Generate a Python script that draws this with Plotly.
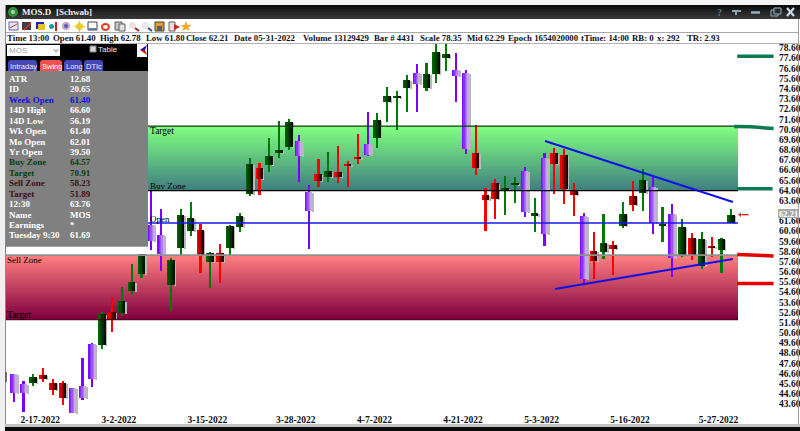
import numpy as np
import plotly.graph_objects as go

dates = ["2-14-2022","2-15-2022","2-16-2022","2-17-2022","2-18-2022","2-22-2022","2-23-2022","2-24-2022","2-25-2022","2-28-2022",
 "3-1-2022","3-2-2022","3-3-2022","3-4-2022","3-7-2022","3-8-2022","3-9-2022","3-10-2022","3-11-2022","3-14-2022",
 "3-15-2022","3-16-2022","3-17-2022","3-18-2022","3-21-2022","3-22-2022","3-23-2022","3-24-2022","3-25-2022","3-28-2022",
 "3-29-2022","3-30-2022","3-31-2022","4-1-2022","4-4-2022","4-5-2022","4-6-2022","4-7-2022","4-8-2022","4-11-2022",
 "4-12-2022","4-13-2022","4-14-2022","4-18-2022","4-19-2022","4-20-2022","4-21-2022","4-22-2022","4-25-2022","4-26-2022",
 "4-27-2022","4-28-2022","4-29-2022","5-2-2022","5-3-2022","5-4-2022","5-5-2022","5-6-2022","5-9-2022","5-10-2022",
 "5-11-2022","5-12-2022","5-13-2022","5-16-2022","5-17-2022","5-18-2022","5-19-2022","5-20-2022","5-23-2022","5-24-2022",
 "5-25-2022","5-26-2022","5-27-2022","5-31-2022"]
kinds = list("PPGRRRPPPGRGGGPPGGGRGRGGGRGGGPPRGRRRPGGGGPGGGPPRRRGGPGPRRRPRGRGRGPGPGRGRGG")
highs = [46.55,45.85,46.55,47.14,46.05,45.85,45.17,48.12,49.59,52.64,54.12,55.10,57.36,60.11,64.64,62.77,57.95,62.77,63.46,61.29,
 58.54,59.33,61.19,62.38,67.78,67.29,69.75,71.42,71.62,70.05,65.13,67.69,68.37,68.96,67.49,70.14,72.31,72.21,74.77,74.37,
 75.95,77.03,77.13,79.50,79.50,78.11,76.44,71.03,64.83,65.72,66.01,65.92,66.90,63.85,68.28,68.77,68.67,65.33,62.38,60.51,
 62.28,59.62,63.46,65.52,66.70,66.01,62.97,63.26,61.79,60.41,60.51,60.02,59.92,62.78]
body_tops = [46.55,45.56,46.25,46.45,45.66,45.66,45.17,45.37,49.49,52.44,52.64,53.72,55.59,59.92,61.19,60.21,57.75,62.18,61.88,60.70,
 58.44,58.44,61.10,62.08,67.19,66.80,67.98,68.57,71.32,69.46,64.44,66.21,66.50,66.41,67.10,67.88,69.16,71.52,73.88,73.88,
 75.45,76.14,76.04,78.21,78.01,76.44,76.14,68.28,64.15,65.33,64.83,65.33,66.50,62.38,67.78,68.28,68.08,64.54,62.08,58.64,
 59.43,59.23,62.28,64.05,65.62,64.93,61.19,62.28,61.00,59.92,59.82,59.13,59.82,62.21]
body_bottoms = [44.68,44.68,45.66,46.05,44.97,44.19,42.71,44.19,46.05,49.40,51.95,52.54,54.71,56.38,59.62,58.34,55.30,58.93,60.60,58.15,
 57.56,57.56,58.93,61.00,64.24,65.72,67.10,68.27,68.87,67.98,62.57,65.52,65.92,65.92,67.00,67.78,68.08,69.75,73.29,73.78,
 74.67,75.06,74.67,76.04,77.62,75.85,68.67,66.80,63.65,63.75,64.64,65.13,62.47,62.08,60.31,67.19,64.74,64.15,55.89,57.65,
 58.54,58.84,61.10,63.16,64.34,61.39,61.10,57.95,58.25,58.25,57.16,58.93,58.74,61.40]
lows = [43.79,42.81,45.37,45.76,44.48,43.50,42.71,43.99,45.27,49.00,50.67,52.25,54.31,55.98,58.74,56.67,52.74,58.25,60.11,56.48,
 55.00,55.49,58.25,60.51,64.05,64.15,66.41,67.78,68.57,65.42,58.84,64.93,65.42,65.32,64.93,67.19,67.98,68.77,71.32,70.54,
 72.31,72.31,74.37,75.16,76.34,73.29,68.18,66.11,60.60,61.79,62.18,63.36,61.98,60.51,59.13,64.24,63.26,62.08,55.49,55.89,
 57.85,56.28,60.90,62.57,62.57,60.31,59.52,56.08,58.05,57.75,56.87,58.05,56.48,61.40]

tick_dates = ["2-17-2022","3-2-2022","3-15-2022","3-28-2022","4-7-2022","4-21-2022","5-3-2022","5-16-2022","5-27-2022"]
price_ticks = [78.6,77.6,76.6,75.6,74.6,73.6,72.6,71.6,70.6,69.6,68.6,67.6,66.6,65.6,64.6,63.6,61.6,60.6,59.6,58.6,57.6,
 56.6,55.6,54.6,53.6,52.6,51.6,50.6,49.6,48.6,47.6,46.6,45.6,44.6,43.6]

buy_zone, buy_target, sell_zone, sell_target, week_open, last_close = 64.57, 70.91, 58.23, 51.89, 61.40, 62.21
upper_trend_i, upper_trend_p = [54.05, 73.17], [69.46, 63.46]
lower_trend_i, lower_trend_p = [55.07, 73.17], [54.90, 57.85]

panel_rows = [("ATR","12.68","#ffffff"),("ID","20.65","#ffffff"),("Week Open","61.40","#1010e0"),("14D High","66.60","#ffffff"),
 ("14D Low","56.19","#ffffff"),("Wk Open","61.40","#ffffff"),("Mo Open","62.01","#ffffff"),("Yr Open","39.50","#ffffff"),
 ("Buy Zone","64.57","#0c400c"),("Target","70.91","#0c400c"),("Sell Zone","58.23","#401010"),("Target","51.89","#401010"),
 ("12:30","63.76","#ffffff"),("Name","MOS","#ffffff"),("Earnings","*","#ffffff"),("Tuesday 9:30","61.69","#ffffff")]
info_items = [("Time 13:00",7),("Open 61.40",53),("High 62.78",100),("Low 61.80",146),("Close 62.21",186),("Date 05-31-2022",234),
 ("Volume 13129429",303),("Bar # 4431",374),("Scale 78.35",420),("Mid 62.29",467),("Epoch 1654020000",508),("tTime: 14:00",581),
 ("RB: 0",632),("x: 292",657),("TR: 2.93",687)]

# ---- pixel geometry of the plot area
L, R, T, B = 6, 778, 44, 415
PX0, PXSTEP = 13.7, 9.83
PY = 10.17
xr = [(L-PX0)/PXSTEP, (R-PX0)/PXSTEP]
yr = [78.6-(B-48)/PY, 78.6+(48-T)/PY]
zone_right = (738-PX0)/PXSTEP
SERIF = "Liberation Serif"
fx = lambda p: (p-L)/(R-L)
fy = lambda p: (B-p)/(B-T)

idx = list(range(len(dates)))
fig = go.Figure()

def zone(top, bot, c_top, c_bot):
    n = 70
    edges = np.linspace(bot, top, n+1)
    z = np.arange(n).reshape(-1, 1)
    fig.add_trace(go.Heatmap(x=[xr[0], zone_right], y=edges, z=z, showscale=False, hoverinfo="skip",
                             colorscale=[[0, c_bot], [1, c_top]]))
zone(buy_target, buy_zone, "#80ff80", "#408080")
zone(sell_zone, sell_target, "#ff8080", "#800040")

styles = {
 "G": ("#007a00", ["#006400","#005000","#004000","#002c00","#001400"]),
 "R": ("#ff0000", ["#f80000","#d00000","#a00000","#680000","#280000"]),
 "P": ("#7a00ff", ["#7a10ff","#8a30f8","#9a58f0","#b080e8","#c8a8e8"]),
}
BW = 0.14
for k, (wick, strips) in styles.items():
    sel = [i for i in idx if kinds[i] == k]
    fig.add_trace(go.Bar(x=sel, base=[lows[i] for i in sel], y=[highs[i]-lows[i] for i in sel],
                         width=0.22, offset=-0.11, marker=dict(color=wick, line_width=0), hoverinfo="skip"))
    fig.add_trace(go.Bar(x=sel, base=[body_bottoms[i]-0.1 for i in sel], y=[body_tops[i]-body_bottoms[i] for i in sel],
                         width=0.1, offset=0.36, marker=dict(color="#b8b8b8", line_width=0), hoverinfo="skip"))
    for s, col in enumerate(strips):
        fig.add_trace(go.Bar(x=sel, base=[body_bottoms[i] for i in sel],
                             y=[max(body_tops[i]-body_bottoms[i], 0.12) for i in sel],
                             width=BW+0.01, offset=-0.35+s*BW, marker=dict(color=col, line_width=0), hoverinfo="skip"))

for lvl, col, w in [(buy_target,"#0a3a0a",1.3),(buy_zone,"#000000",1.3),(sell_zone,"#909090",1.6),(sell_target,"#500020",1.3),(week_open,"#1818e8",1.5)]:
    fig.add_trace(go.Scatter(x=[xr[0], zone_right], y=[lvl, lvl], mode="lines", line=dict(color=col, width=w), hoverinfo="skip"))
for xs, ys in [(upper_trend_i, upper_trend_p), (lower_trend_i, lower_trend_p)]:
    fig.add_trace(go.Scatter(x=xs, y=ys, mode="lines", line=dict(color="#1010e8", width=2), hoverinfo="skip"))
strokes = [([73.6,77.3],[77.8,77.8],"#0a7a50"),([73.3,75.0,77.3],[70.88,70.85,70.68],"#0a7a50"),([73.6,77.2],[64.75,64.75],"#0a7a50"),
           ([73.6,75.5,77.3],[58.3,58.25,58.15],"#e80000"),([73.6,77.3],[55.45,55.45],"#e80000")]
for xs, ys, c in strokes:
    fig.add_trace(go.Scatter(x=xs, y=ys, mode="lines", line=dict(color=c, width=3.5), hoverinfo="skip"))
fig.add_trace(go.Scatter(x=[74.8, 73.9], y=[last_close, last_close], mode="lines+markers", hoverinfo="skip",
    line=dict(color="#d00000", width=1.2), marker=dict(symbol=["line-ew","triangle-left"], size=[1,6], color="#d00000")))

shapes = []
def rect(x0, y0, x1, y1, col, line=None):
    shapes.append(dict(type="rect", xref="paper", yref="paper", x0=fx(x0), x1=fx(x1), y0=fy(y0), y1=fy(y1),
                       fillcolor=col, line=dict(color=line or col, width=1 if line else 0)))
def circ(x0, y0, x1, y1, col):
    shapes.append(dict(type="circle", xref="paper", yref="paper", x0=fx(x0), x1=fx(x1), y0=fy(y0), y1=fy(y1),
                       fillcolor=col, line=dict(width=0)))
def seg(x0, y0, x1, y1, col, w=1):
    shapes.append(dict(type="line", xref="paper", yref="paper", x0=fx(x0), x1=fx(x1), y0=fy(y0), y1=fy(y1), line=dict(color=col, width=w)))
def poly(pts, col):
    d = "M" + " L".join(f"{fx(a):.5f},{fy(b):.5f}" for a, b in pts) + " Z"
    shapes.append(dict(type="path", xref="paper", yref="paper", path=d, fillcolor=col, line=dict(width=0)))

rect(0, 424, 800, 427, "#c4c4c4"); rect(0, 427, 800, 431, "#0c0c0c")
rect(0, 0, 800, 5, "#f4f4f4"); rect(0, 0, 5, 431, "#f0f0f0"); rect(5, 5, 6, 424, "#8a8a8a"); rect(798, 18, 799, 424, "#a0a0a0")
seg(6, 372, 6, 382, "#505050", 1.5)
for j, c in enumerate(["#0c0c0c","#141414","#1c1c1c","#242424","#2a2a2a","#303030","#363636"]):
    rect(6, 5+j*2, 800, 7+j*2, c)
rect(6, 19, 798, 32, "#ffffff"); rect(6, 32, 798, 33, "#a8a8a8"); rect(6, 43, 798, 44, "#b0b0b0")
circ(8, 7, 18, 17, "#2f8f3f"); circ(11, 10, 15, 14, "#b0d0b0")
seg(732, 11, 741, 11, "#7fa8b8", 2); seg(736, 11, 736, 15, "#7fa8b8", 2)
seg(751, 12.5, 760, 12.5, "#8fb4c4", 2.5)
rect(771, 10, 778, 16, "#2a2a2a", "#8fb4c4"); rect(774, 8, 781, 14, "#2a2a2a", "#8fb4c4")
seg(787, 8, 794, 16, "#c4dce8", 2.2); seg(794, 8, 787, 16, "#c4dce8", 2.2)

rect(9, 22, 18, 30, "#e8e8f8", "#6060a0"); seg(10, 28, 17, 24, "#d03030", 1)
rect(22, 22, 31, 30, "#404040"); seg(24, 30, 31, 23, "#e03030", 1.5)
rect(36, 22, 44, 29, "#2020c0"); rect(38, 24, 45, 30, "#e8c020")
circ(49, 24, 54, 29, "#10a0a0"); seg(56, 22, 56, 31, "#d02020", 2)
circ(62, 22, 70, 30, "#d0a0c0"); circ(64, 24, 68, 28, "#4060c0")
circ(76, 23, 83, 30, "#f0d020"); seg(74, 26.5, 85, 26.5, "#f0c020", 1); seg(79.5, 21, 79.5, 32, "#f0c020", 1)
rect(88, 22, 97, 30, "#ffffff", "#404040"); rect(89, 28, 96, 30, "#6080a0")
circ(101, 23, 110, 31, "#e04020"); circ(103, 25, 108, 29, "#f0f0f0")
rect(115, 22, 122, 30, "#c0c8d0", "#606060"); rect(119, 24, 125, 31, "#e0e0e0", "#606060")
circ(129, 22, 136, 29, "#f0e0e0"); seg(135, 28, 139, 31, "#a02020", 2)
circ(142, 22, 149, 29, "#e8e8f0"); seg(148, 28, 152, 31, "#404080", 2)
rect(155, 22, 164, 31, "#e0a030", "#404040"); rect(157, 26, 162, 31, "#506070")
rect(169, 22, 175, 31, "#e0e0e0", "#606060"); poly([(174,24),(180,27),(174,30)], "#d02020")
poly([(186,21),(187.5,25),(191.5,25),(188.3,27.5),(189.5,31),(186,29),(182.5,31),(183.7,27.5),(180.5,25),(184.5,25)], "#f0a820")

rect(6, 44, 148, 71, "#000000")
rect(7, 45, 60, 56, "#ffffff")
seg(54, 49, 56, 52, "#909090"); seg(56, 52, 58, 49, "#909090")
rect(90, 46, 96, 52, "#d8d8d8", "#808080")
rect(137, 44, 147, 57, "#ffffff"); poly([(140,50),(147,45),(145,50)], "#1010d0"); poly([(140,50),(147,55),(145,50)], "#d01010")
for x0, x1, c in [(8,37,"#4646b4"),(40,62,"#f05050"),(64,82,"#4646b4"),(84,103,"#4646b4")]:
    shapes.append(dict(type="path", xref="paper", yref="paper", fillcolor=c, line=dict(width=0),
        path=f"M{fx(x0)},{fy(71)} L{fx(x0)},{fy(63)} Q{fx(x0)},{fy(60)} {fx(x0+3)},{fy(60)} L{fx(x1-3)},{fy(60)} Q{fx(x1)},{fy(60)} {fx(x1)},{fy(63)} L{fx(x1)},{fy(71)} Z"))
rect(6, 71, 148, 246, "#808080")
rect(6, 246, 148, 254, "#ffffff")
rect(6, 246, 148, 247, "#a8a8a8")

ann = []
def text(x, y, s, col="#000000", size=9, bold=True, font=SERIF, anchor="left"):
    ann.append(dict(xref="paper", yref="paper", x=fx(x), y=fy(y), text=f"<b>{s}</b>" if bold else s, showarrow=False,
                    xanchor=anchor, yanchor="middle", align="left",
                    font=dict(family=font, size=size, color=col), borderpad=0, borderwidth=0))
for s, x in info_items:
    text(x, 37.5, s, "#101018", 8.8)
text(22, 12, "MOS.D", "#f0f0f0", 9)
text(56, 12, "[Schwab]", "#f0f0f0", 9)
text(717, 12, "?", "#4f7f90", 10)
text(9, 50.5, "MOS", "#a0a0a0", 8, False, "Liberation Sans")
text(98, 50, "Table", "#e8e8e8", 8, False, "Liberation Sans")
for s, x, c in [("Intraday",10,"#e8e8ff"),("Swing",42,"#ffffff"),("Long",66,"#e8e8ff"),("DTIc",86,"#e8e8ff")]:
    text(x, 66.5, s, c, 7.5, False, "Liberation Sans")
for j, (a, b, c) in enumerate(panel_rows):
    y = 79 + j*10.43
    text(9, y, a, c, 9)
    text(70, y, b, c, 9)
text(150, 131, "Target", size=9.5, bold=False)
text(150, 186, "Buy Zone", size=9, bold=False)
text(150, 219, "Open", size=9, bold=False)
text(7, 260, "Sell Zone", size=9, bold=False)
text(7, 315, "Target", size=9.5, bold=False)
rect(778, 209, 799, 218, "#a8a8a8")
text(779, 213.5, "62.21", "#ffffff", 8.5)

fig.update_layout(
    width=800, height=431, autosize=False, margin=dict(l=L, r=800-R, t=T, b=431-B, pad=0), showlegend=False,
    paper_bgcolor="#ffffff", plot_bgcolor="#ffffff", barmode="overlay", bargap=0,
    shapes=shapes, annotations=ann,
    xaxis=dict(range=xr, automargin=False, showgrid=False, zeroline=False, showline=False, ticks="",
               tickmode="array", tickvals=[dates.index(d)-0.3 for d in tick_dates], ticktext=tick_dates,
               tickangle=0, ticklabelstandoff=-3, tickfont=dict(family=SERIF, size=9.5, color="#101018", weight="bold")),
    yaxis=dict(range=yr, automargin=False, side="right", showgrid=False, zeroline=False, showline=False, ticks="",
               tickmode="array", tickvals=price_ticks, ticktext=[f"{v:.2f}" for v in price_ticks],
               tickfont=dict(family=SERIF, size=9.5, color="#101018", weight="bold")),
)
fig.write_html("out.html", config=dict(displayModeBar=False),
               post_script="document.body.style.margin='0';document.documentElement.style.overflow='hidden';")
